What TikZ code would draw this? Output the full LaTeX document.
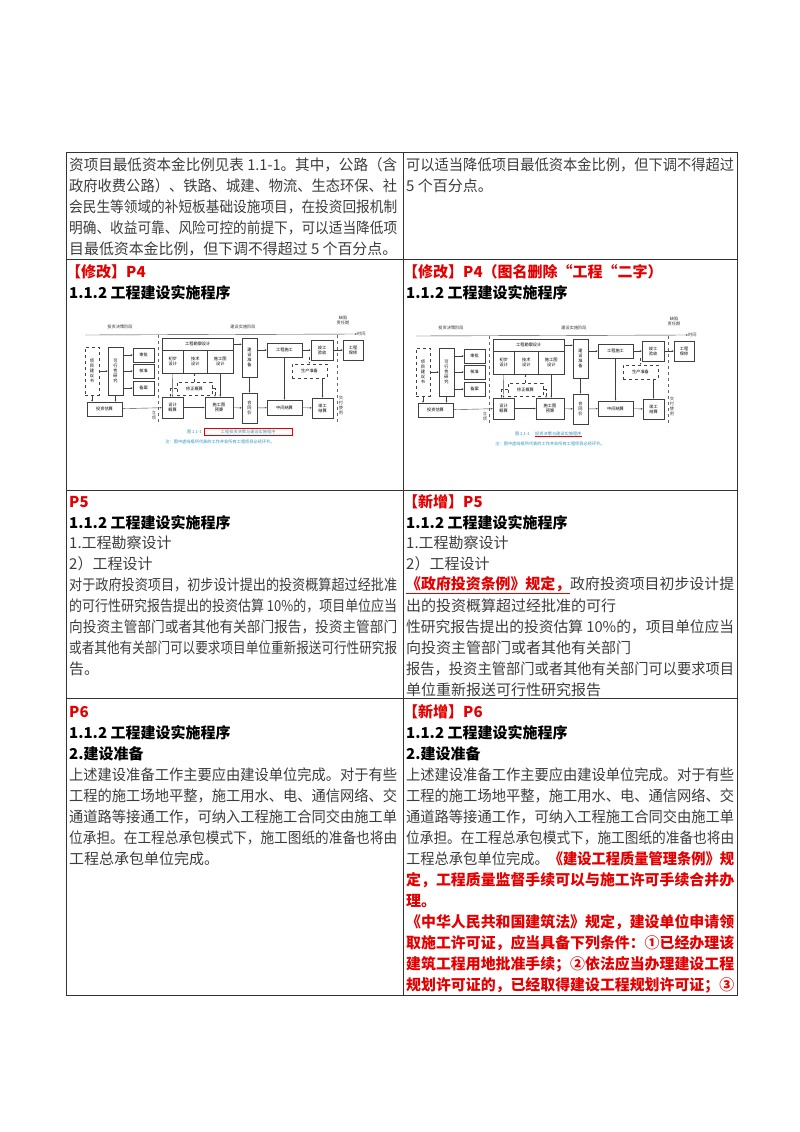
\documentclass[tikz,border=0pt]{standalone}
\usepackage{fontspec}
\usepackage{graphicx}
\setmainfont{Noto Sans CJK SC}
\usetikzlibrary{arrows.meta}
\definecolor{bodyc}{RGB}{60,60,60}
\definecolor{redc}{RGB}{228,0,0}
\definecolor{capc}{RGB}{40,150,190}
\newsavebox\lnbox
\newcommand\fitw[1]{\sbox\lnbox{#1}\ifdim\wd\lnbox>328pt \resizebox{328pt}{\ht\lnbox}{\usebox\lnbox}\else\usebox\lnbox\fi}
\tikzset{
  tl/.style={anchor=west,inner sep=0,font=\fontsize{15}{15}\selectfont,text=bodyc},
  hd/.style={tl,text=black,font=\fontsize{15}{15}\selectfont\bfseries},
  rd/.style={tl,text=redc,font=\fontsize{15}{15}\selectfont\bfseries},
  fb/.style={draw=black!75,line width=0.5pt,inner sep=0,font=\fontsize{4.2}{5}\selectfont,align=center,fill=white},
  fd/.style={fb,dashed},
  fl/.style={inner sep=0,font=\fontsize{4.2}{5}\selectfont,align=center,text=black!80},
  fa/.style={draw=black!75,line width=0.4pt,-{Stealth[length=2pt,width=1.6pt]}},
  fdash/.style={fa,dashed},
  grid/.style={draw=black!80,line width=1pt}
}
\newcommand\flowchart[3]{%
\begin{scope}[shift={(#2,#3)}]
 \node[fl] (#1t1) at (120,327) {投资决策阶段};
 \node[fl] (#1t2) at (243,327) {建设实施阶段};
 \node[fl] (#1t3) at (343,320) {缺陷\\责任期};
 \coordinate (#1ls) at (85,335);
 \node[fl,anchor=west] (#1time) at (357,334) {时间};
 \draw[fa] (#1ls) -- (#1time.west);
 \draw[black!60,dashed,line width=0.4pt] (158,335) -- (158,425);
 \draw[black!60,dashed,line width=0.4pt] (337,335) -- (337,425);
 \node[fd,minimum width=14pt,minimum height=48pt] (#1xm) at (92,371) {项\\目\\建\\议\\书};
 \node[fb,minimum width=15pt,minimum height=48pt] (#1kx) at (115.5,371) {可\\行\\性\\研\\究};
 \node[fb,minimum width=21pt,minimum height=14pt] (#1sp) at (143.5,355) {审批};
 \node[fb,minimum width=21pt,minimum height=14pt] (#1hz) at (143.5,371) {核准};
 \node[fb,minimum width=21pt,minimum height=14pt] (#1ba) at (143.5,388) {备案};
 \node[fb,minimum width=35pt,minimum height=14pt] (#1tz) at (104.5,409) {投资估算};
 \node[fb,minimum width=71pt,minimum height=12pt,anchor=north west] (#1kc) at (162,338) {工程勘察设计};
 \node[fb,minimum width=21pt,minimum height=23pt,anchor=north west] (#1cb) at (162,350) {初步\\设计};
 \node[fb,minimum width=24pt,minimum height=23pt,anchor=north west] (#1js) at (183,350) {技术\\设计};
 \node[fb,minimum width=26pt,minimum height=23pt,anchor=north west] (#1sg) at (207,350) {施工图\\设计};
 \node[fd,minimum width=35pt,minimum height=13pt] (#1xz) at (194.5,388.5) {修正概算};
 \node[fb,minimum width=21pt,minimum height=21pt] (#1gs) at (172.5,407.5) {设计\\概算};
 \node[fb,minimum width=28pt,minimum height=21pt] (#1ys) at (219,407.5) {施工图\\预算};
 \node[fb,minimum width=15pt,minimum height=39pt] (#1zb) at (249.5,357.5) {建\\设\\准\\备};
 \node[fb,minimum width=15pt,minimum height=30pt] (#1ht) at (249.5,408) {合\\同\\价};
 \node[fb,minimum width=35pt,minimum height=14pt] (#1sgg) at (284.5,350) {工程施工};
 \node[fd,minimum width=35pt,minimum height=14pt] (#1sc) at (309.5,371) {生产准备};
 \node[fb,minimum width=22pt,minimum height=20pt] (#1ys2) at (322,350) {竣工\\验收};
 \node[fb,minimum width=20pt,minimum height=20pt] (#1bx) at (353,350) {工程\\保修};
 \node[fb,minimum width=35pt,minimum height=15pt] (#1zj) at (284.5,407.5) {中间结算};
 \node[fb,minimum width=21pt,minimum height=20pt] (#1jg) at (322.5,408) {竣工\\结算};
 \node[fl] (#1jf) at (341,405) {交\\付\\使\\用};
 \node[fl] (#1lx) at (154,415) {立\\项};
 \draw[fa] (#1xm) -- (#1kx);
 \draw[fa] (#1kx.east) -- (#1hz);
 \draw[fa] (#1kx.east|-#1sp) -- (#1sp);
 \draw[fa] (#1kx.east|-#1ba) -- (#1ba);
 \draw[fa] (#1xm.south) -- (#1xm.south|-#1tz.north);
 \draw[fa] (#1kx.south) -- (#1kx.south|-#1tz.north);
 \draw[fa] (#1tz) -- (#1gs);
 \draw[fa] (#1cb.south) -- (#1gs.north);
 \draw[fa] (#1sg.south) -- (#1sg.south|-#1ys.north);
 \draw[fa] (#1gs) -- (#1ys);
 \draw[fdash] (#1xz.north) -- (#1xz.north|-#1js.south);
 \draw[fdash] (#1xz.west) -| ([xshift=-2pt]#1gs.north);
 \draw[fdash] (#1xz.east) -| ([xshift=-4pt]#1ys.north);
 \draw[fa] (#1ys) -- (#1ht);
 \draw[fa] (#1kc.east) -- (#1zb.west|-#1kc.east);
 \draw[fa] (#1zb) -- (#1ht);
 \draw[fa] (#1zb.east|-#1sgg) -- (#1sgg);
 \draw[fa] (#1sgg) -- (#1ys2);
 \draw[fa] (#1ys2) -- (#1bx);
 \draw[fdash] (#1sgg.south-|#1sc.north) -- (#1sc.north);
 \draw[fa] (#1sgg.south) -- (#1zj.north);
 \draw[fa] (#1ht) -- (#1zj);
 \draw[fa] (#1zj) -- (#1jg);
 \draw[fa] (#1jg.north|-#1sc.south) -- (#1jg.north);
\end{scope}}
\begin{document}
\begin{tikzpicture}[x=1pt,y=-1pt]
\useasboundingbox (0,0) rectangle (800,1132);
% grid
\draw[grid] (66,152) rectangle (737,995);
\foreach \yy in {259,490,698} \draw[grid] (66,\yy) -- (737,\yy);
\draw[grid] (403,152) -- (403,995);
% row1
\node[tl] (a1) at (69,165) {\fitw{资项目最低资本金比例见表 1.1-1。其中，公路（含}};
\node[tl] (a2) at (69,186) {\fitw{政府收费公路）、铁路、城建、物流、生态环保、社}};
\node[tl] (a3) at (69,207) {\fitw{会民生等领域的补短板基础设施项目，在投资回报机制}};
\node[tl] (a4) at (69,228) {\fitw{明确、收益可靠、风险可控的前提下，可以适当降低项}};
\node[tl] (a5) at (69,249) {\fitw{目最低资本金比例，但下调不得超过 5 个百分点。}};
\node[tl] (b1) at (406,165) {\fitw{可以适当降低项目最低资本金比例，但下调不得超过}};
\node[tl] (b2) at (406,186) {5 个百分点。};
% row2
\node[rd] (c1) at (66,272) {【修改】P4};
\node[hd] (c2) at (69,293) {1.1.2 工程建设实施程序};
\node[rd] (d1) at (403,272) {【修改】P4（图名删除“工程“二字）};
\node[hd] (d2) at (406,293) {1.1.2 工程建设实施程序};
\flowchart{L}{0}{0}
\node[fl,text=capc,anchor=east] (Lcap0) at (202,432) {图 1.1-1};
\node[fl,text=capc,anchor=west,draw=redc,inner sep=1.5pt,minimum width=88pt] (Lcap) at (204,432) {工程投资决策与建设实施程序};
\node[fl,text=capc] (Lnote) at (220,442) {注：图中虚线框所代表的工作并非所有工程项目必经环节。};
\flowchart{R}{331}{1}
\node[fl,text=capc,anchor=east] (Rcap0) at (530,434) {图 1.1-1};
\node[fl,text=capc,anchor=west] (Rcap) at (535,434) {投资决策与建设实施程序};
\draw[redc,line width=0.5pt] (Rcap.south west) -- (Rcap.south east);
\node[fl,text=capc] (Rnote) at (550,444) {注：图中虚线框所代表的工作并非所有工程项目必经环节。};
% row3
\node[rd] (e1) at (69,502) {P5};
\node[hd] (e2) at (69,523) {1.1.2 工程建设实施程序};
\node[tl] (e3) at (69,543) {1.工程勘察设计};
\node[tl] (e4) at (69,564) {2）工程设计};
\node[tl] (e5) at (69,585) {\fitw{对于政府投资项目，初步设计提出的投资概算超过经批准}};
\node[tl] (e6) at (69,606) {\fitw{的可行性研究报告提出的投资估算 10\%的，项目单位应当}};
\node[tl] (e7) at (69,627) {\fitw{向投资主管部门或者其他有关部门报告，投资主管部门}};
\node[tl] (e8) at (69,648) {\fitw{或者其他有关部门可以要求项目单位重新报送可行性研究报}};
\node[tl] (e9) at (69,669) {告。};
\node[rd] (f1) at (403,502) {【新增】P5};
\node[hd] (f2) at (406,523) {1.1.2 工程建设实施程序};
\node[tl] (f3) at (406,543) {1.工程勘察设计};
\node[tl] (f4) at (406,564) {2）工程设计};
\node[tl] (f5) at (406,585) {\fitw{\textcolor{redc}{\bfseries\underline{《政府投资条例》规定，}}政府投资项目初步设计提}};
\node[tl] (f6) at (406,606) {\fitw{出的投资概算超过经批准的可行}};
\node[tl] (f7) at (406,627) {\fitw{性研究报告提出的投资估算 10\%的，项目单位应当}};
\node[tl] (f8) at (406,648) {\fitw{向投资主管部门或者其他有关部门}};
\node[tl] (f9) at (406,669) {\fitw{报告，投资主管部门或者其他有关部门可以要求项目}};
\node[tl] (f10) at (406,690) {\fitw{单位重新报送可行性研究报告}};
% row4
\node[rd] (g1) at (69,712) {P6};
\node[hd] (g2) at (69,733) {1.1.2 工程建设实施程序};
\node[hd] (g3) at (69,754) {2.建设准备};
\node[tl] (g4) at (69,775) {\fitw{上述建设准备工作主要应由建设单位完成。对于有些}};
\node[tl] (g5) at (69,796) {\fitw{工程的施工场地平整，施工用水、电、通信网络、交}};
\node[tl] (g6) at (69,817) {\fitw{通道路等接通工作，可纳入工程施工合同交由施工单}};
\node[tl] (g7) at (69,838) {\fitw{位承担。在工程总承包模式下，施工图纸的准备也将由}};
\node[tl] (g8) at (69,859) {工程总承包单位完成。};
\node[rd] (h1) at (403,712) {【新增】P6};
\node[hd] (h2) at (406,733) {1.1.2 工程建设实施程序};
\node[hd] (h3) at (406,754) {2.建设准备};
\node[tl] (h4) at (406,775) {\fitw{上述建设准备工作主要应由建设单位完成。对于有些}};
\node[tl] (h5) at (406,796) {\fitw{工程的施工场地平整，施工用水、电、通信网络、交}};
\node[tl] (h6) at (406,817) {\fitw{通道路等接通工作，可纳入工程施工合同交由施工单}};
\node[tl] (h7) at (406,838) {\fitw{位承担。在工程总承包模式下，施工图纸的准备也将由}};
\node[tl] (h8) at (406,859) {\fitw{工程总承包单位完成。\textcolor{redc}{\bfseries《建设工程质量管理条例》规}}};
\node[rd] (h9) at (406,880) {\fitw{定，工程质量监督手续可以与施工许可手续合并办}};
\node[rd] (h10) at (406,901) {理。};
\node[rd] (h11) at (406,922) {\fitw{《中华人民共和国建筑法》规定，建设单位申请领}};
\node[rd] (h12) at (406,943) {\fitw{取施工许可证，应当具备下列条件：①已经办理该}};
\node[rd] (h13) at (406,964) {\fitw{建筑工程用地批准手续；②依法应当办理建设工程}};
\node[rd] (h14) at (406,985) {\fitw{规划许可证的，已经取得建设工程规划许可证；③}};
\end{tikzpicture}
\end{document}
